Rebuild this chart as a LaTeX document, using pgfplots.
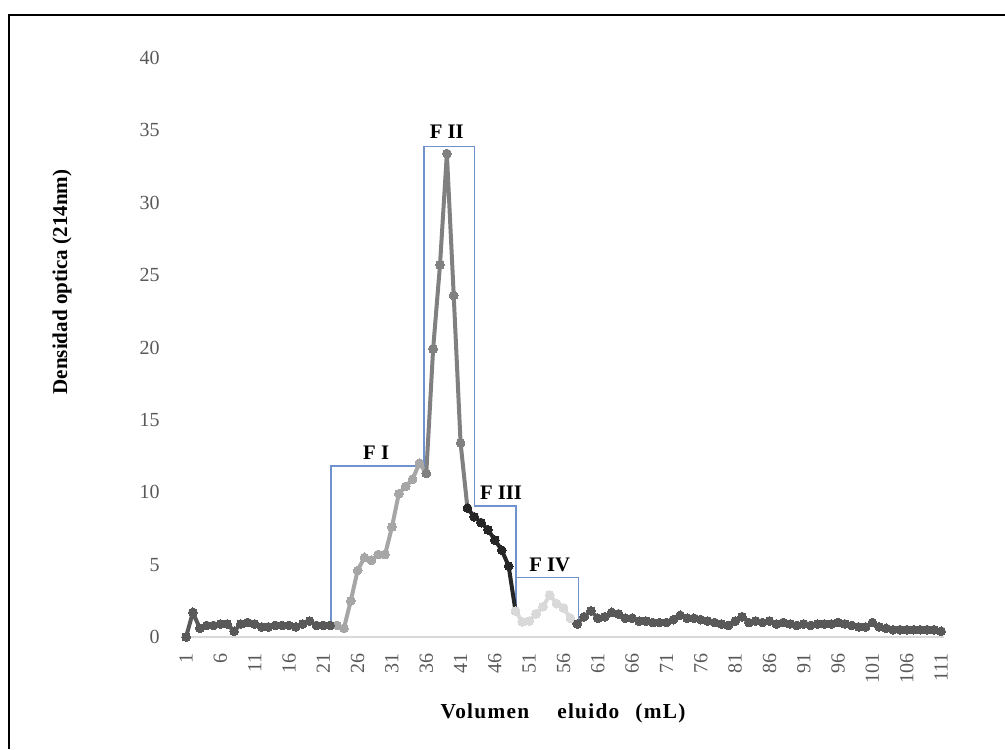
\documentclass[border=0pt]{standalone}
\usepackage{pgfplots}
\pgfplotsset{compat=1.18}
\usepackage{fontspec}
\setmainfont{Liberation Serif}
\definecolor{cdark}{HTML}{595959}
\definecolor{clight}{HTML}{A6A6A6}
\definecolor{cmed}{HTML}{808080}
\definecolor{cblack}{HTML}{262626}
\definecolor{cvlight}{HTML}{D9D9D9}
\definecolor{cbox}{HTML}{7092CC}
\definecolor{caxis}{HTML}{D9D9D9}
\definecolor{ctick}{HTML}{595959}
\pgfplotsset{ser/.style={#1, line width=3.0pt, mark=*, mark size=3.3pt, mark options={fill=#1, draw=#1, line width=0pt}}}
\begin{document}
\begin{tikzpicture}
\path[use as bounding box] (0,0) rectangle (753.75pt,561.75pt);
\draw[black, line width=1.6pt] (6.6pt,0) -- (6.6pt,550.6pt) -- (760pt,550.6pt);
\begin{axis}[
  at={(136.95pt,84pt)}, anchor=south west,
  scale only axis, width=571.4pt, height=434.25pt,
  xmin=0.5, xmax=111.5, ymin=0, ymax=40,
  separate axis lines,
  axis x line*=bottom, axis y line*=left,
  x axis line style={draw=caxis, line width=1.2pt, -},
  y axis line style={draw=none},
  major tick length=0pt,
  xtick={1,6,...,111}, ytick={0,5,...,40},
  /pgf/number format/assume math mode=true,
  tick label style={font=\fontsize{15}{17}\selectfont, text=ctick, inner sep=0pt},
  xticklabel style={rotate=90, anchor=east},
  yticklabel style={anchor=east},
  xticklabel shift=12pt,
  yticklabel shift=17pt,
  clip=false,
  every axis plot/.append style={line join=round, line cap=round},
]
% box annotations
\addplot[cbox, line width=1.1pt, no markers, line join=miter, line cap=butt] coordinates {
(22.1,0.8) (22.1,11.8) (35.7,11.8) (35.7,33.9) (43.0,33.9) (43.0,9.05) (49.1,9.05) (49.1,1.6)};
\addplot[cbox, line width=1.1pt, no markers, line join=miter, line cap=butt] coordinates {
(49.1,4.1) (58.2,4.1) (58.2,0.9)};
% F I
\addplot[ser=clight] coordinates {
(22,0.8) (23,0.8) (24,0.6) (25,2.5) (26,4.6) (27,5.5) (28,5.3) (29,5.7) (30,5.7) (31,7.6) (32,9.9) (33,10.4) (34,10.9) (35,12.0) (36,11.3)};
% baseline 1
\addplot[ser=cdark] coordinates {
(1,0) (2,1.7) (3,0.6) (4,0.8) (5,0.8) (6,0.9) (7,0.9) (8,0.4) (9,0.9) (10,1.0) (11,0.9) (12,0.7) (13,0.7) (14,0.8) (15,0.8) (16,0.8) (17,0.7) (18,0.9) (19,1.1) (20,0.8) (21,0.8) (22,0.8)};
% F II
\addplot[ser=cmed] coordinates {
(36,11.3) (37,19.9) (38,25.7) (39,33.4) (40,23.6) (41,13.4) (42,8.9)};
% F III
\addplot[ser=cblack] coordinates {
(42,8.9) (43,8.3) (44,7.9) (45,7.4) (46,6.7) (47,6.0) (48,4.9) (49,1.8)};
% F IV
\addplot[ser=cvlight] coordinates {
(49,1.8) (50,1.05) (51,1.1) (52,1.6) (53,2.1) (54,2.9) (55,2.3) (56,2.0) (57,1.3) (58,0.9)};
% baseline 2
\addplot[ser=cdark] coordinates {
(58,0.9) (59,1.4) (60,1.8) (61,1.3) (62,1.4) (63,1.7) (64,1.6) (65,1.3) (66,1.3) (67,1.1) (68,1.1) (69,1.0) (70,1.0) (71,1.0) (72,1.2) (73,1.5) (74,1.3) (75,1.3) (76,1.2) (77,1.1) (78,1.0) (79,0.9) (80,0.8) (81,1.1) (82,1.4) (83,1.0) (84,1.1) (85,1.0) (86,1.1) (87,0.9) (88,1.0) (89,0.9) (90,0.8) (91,0.9) (92,0.8) (93,0.9) (94,0.9) (95,0.9) (96,1.0) (97,0.9) (98,0.8) (99,0.7) (100,0.7) (101,1.0) (102,0.7) (103,0.6) (104,0.5) (105,0.5) (106,0.5) (107,0.5) (108,0.5) (109,0.5) (110,0.5) (111,0.4)};
\node[font=\fontsize{15.5}{17}\selectfont\bfseries, inner sep=0pt] at (axis cs:28.7,12.75) {F I};
\node[font=\fontsize{15.5}{17}\selectfont\bfseries, inner sep=0pt] at (axis cs:39.0,34.9) {F II};
\node[font=\fontsize{15.5}{17}\selectfont\bfseries, inner sep=0pt] at (axis cs:46.9,9.95) {F III};
\node[font=\fontsize{15.5}{17}\selectfont\bfseries, inner sep=0pt] at (axis cs:54.0,4.95) {F IV};
\end{axis}
\node[rotate=90, font=\fontsize{15.8}{17}\selectfont\bfseries, inner sep=0pt] at (46.5pt,350.25pt) {Densidad optica (214nm)};
\node[font=\fontsize{16}{18}\selectfont\bfseries\addfontfeatures{LetterSpace=6}, inner sep=0pt] at (422.25pt,27pt) {Volumen\hspace{21pt}eluido\hspace{12pt}(mL)};
\end{tikzpicture}
\end{document}
